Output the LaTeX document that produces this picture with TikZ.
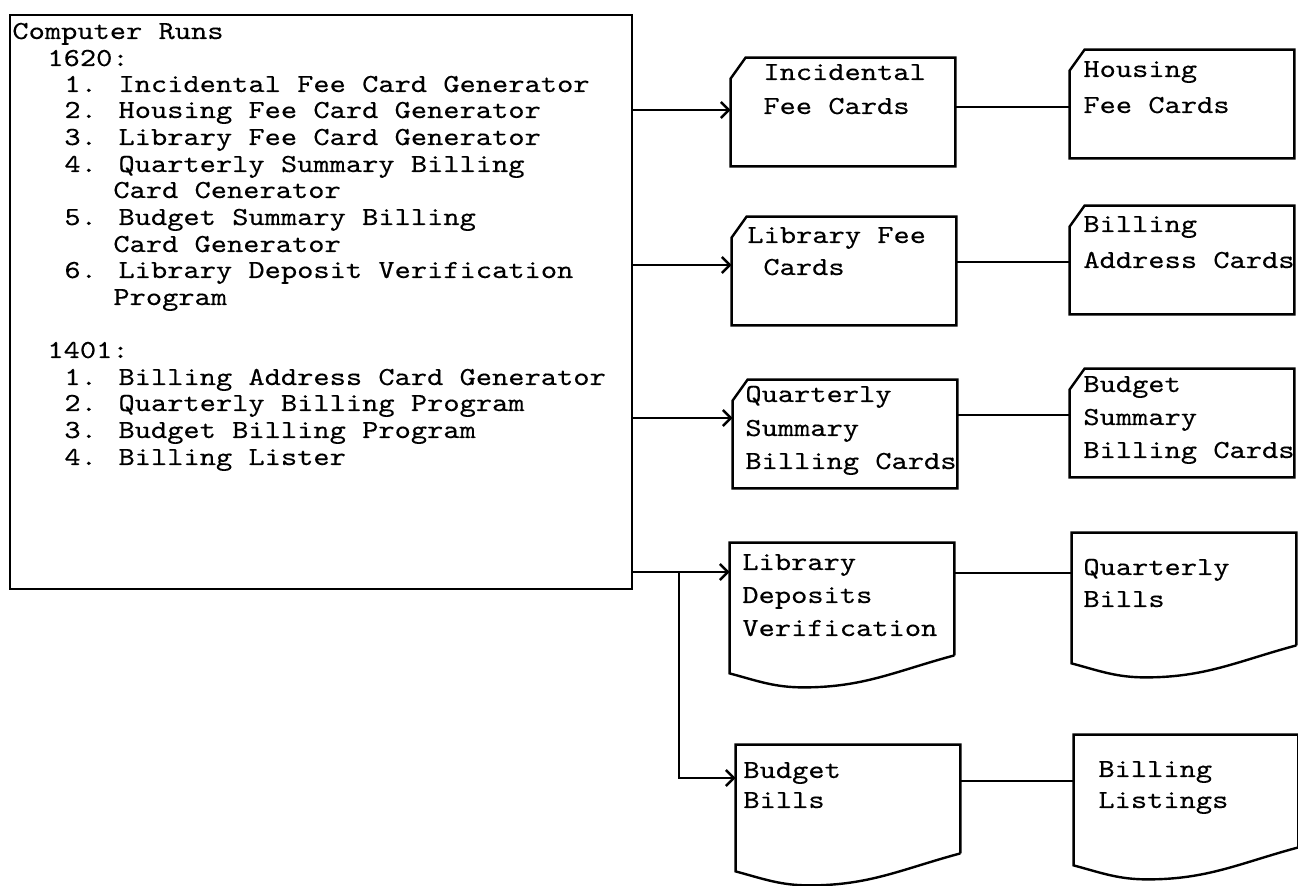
\documentclass[tikz,border=0pt]{standalone}
\usepackage{fontspec}
\newfontfamily\typewriter{lmmono10-regular.otf}[FakeStretch=1.19, FakeBold=0.25]
\usetikzlibrary{arrows.meta,calc}

\tikzset{
  line/.style={line width=1.2pt},
  feed/.style={line, -{Straight Barb[length=4pt,width=8pt]}},
  card/.style={rectangle, minimum width=112pt, minimum height=54pt, inner sep=0pt},
  doc/.style={rectangle, minimum width=112pt, minimum height=56pt, inner sep=0pt},
  typed/.style={font=\typewriter\fontsize{13}{16}\selectfont, anchor=base west, inner sep=0pt},
}

\begin{document}
\begin{tikzpicture}[x=0.5pt,y=-0.5pt]
  \useasboundingbox (0,0) rectangle (1298,886);

  % computer runs
  \node[draw, line, minimum width=311pt, minimum height=287pt, inner sep=0pt] (runs) at (321,302) {};
  \foreach \x/\y/\t [count=\i] in {12/39/Computer Runs, 47/66/1620:,
      64/92/1. Incidental Fee Card Generator, 64/118/2. Housing Fee Card Generator,
      64/145/3. Library Fee Card Generator, 64/172/4. Quarterly Summary Billing,
      113/198/Card Cenerator, 64/225/5. Budget Summary Billing, 113/252/Card Generator,
      64/278/6. Library Deposit Verification, 113/305/Program,
      47/358/1401:, 64/385/1. Billing Address Card Generator,
      64/411/2. Quarterly Billing Program, 64/438/3. Budget Billing Program,
      64/465/4. Billing Lister}
    \node[typed] (run\i) at (\x,\y) {\t};

  % cards
  \node[card] (inc) at (843,112) {};
  \node[card] (hou) at (1182,104) {};
  \node[card] (lib) at (844,271) {};
  \node[card] (bil) at (1182,260) {};
  \node[card] (qsb) at (845,434) {};
  \node[card] (bsb) at (1182,423) {};
  \foreach \c in {inc,hou,lib,bil,qsb,bsb}
    \draw[line] ($(\c.north west)+(0,21)$) -- ($(\c.north west)+(15,0)$) -- (\c.north east)
      -- (\c.south east) -- (\c.south west) -- cycle;

  % documents
  \node[doc] (ldv) at (842,599) {};
  \node[doc] (qbl) at (1184,589) {};
  \node[doc, minimum height=54pt] (bbl) at (848,799) {};
  \node[doc] (bls) at (1186,791) {};
  \foreach \d in {ldv,qbl,bbl,bls}
    \draw[line] (\d.south east) -- (\d.north east) -- (\d.north west) -- ($(\d.south west)+(0,18)$)
      to[out=-15,in=180] ($(\d.south west)!0.33!(\d.south east)+(0,32)$)
      to[out=0,in=195] (\d.south east);

  % texts on cards and documents
  \foreach \x/\y/\t [count=\i] in {763/80/Incidental, 763/114/Fee Cards,
      1083/77/Housing, 1083/113/Fee Cards,
      747/243/Library Fee, 763/275/Cards,
      1083/232/Billing, 1083/268/Address Cards,
      745/402/Quarterly, 745/436/Summary, 745/469/Billing Cards,
      1083/392/Budget, 1083/425/Summary, 1083/458/Billing Cards,
      742/570/Library, 742/603/Deposits, 742/636/Verification,
      1083/575/Quarterly, 1083/607/Bills,
      743/778/Budget, 743/808/Bills,
      1098/777/Billing, 1098/808/Listings}
    \node[typed] (lbl\i) at (\x,\y) {\t};

  % feeds from the runs
  \coordinate (incin) at ([yshift=1pt]inc.west);
  \coordinate (libin) at ([yshift=3pt]lib.west);
  \coordinate (qsbin) at ([yshift=8pt]qsb.west);
  \coordinate (ldvin) at ([yshift=13.5pt]ldv.west);
  \coordinate (bblin) at ([yshift=10.5pt]bbl.west);
  \draw[feed] (runs.east |- incin) -- (incin);
  \draw[feed] (runs.east |- libin) -- (libin);
  \draw[feed] (runs.east |- qsbin) -- (qsbin);
  \draw[feed] (runs.east |- ldvin) -- (ldvin);
  \coordinate (split) at ($(runs.east |- ldvin)+(46,0)$);
  \draw[feed] (split) |- (bblin);

  % links to the second column
  \coordinate (incout) at ([yshift=2.5pt]inc.east);
  \coordinate (libout) at ([yshift=4.5pt]lib.east);
  \coordinate (qsbout) at ([yshift=9.5pt]qsb.east);
  \coordinate (ldvout) at ([yshift=13pt]ldv.east);
  \coordinate (bblout) at ([yshift=9pt]bbl.east);
  \draw[line] (incout) -- (incout -| hou.west);
  \draw[line] (libout) -- (libout -| bil.west);
  \draw[line] (qsbout) -- (qsbout -| bsb.west);
  \draw[line] (ldvout) -- (ldvout -| qbl.west);
  \draw[line] (bblout) -- (bblout -| bls.west);
\end{tikzpicture}
\end{document}
